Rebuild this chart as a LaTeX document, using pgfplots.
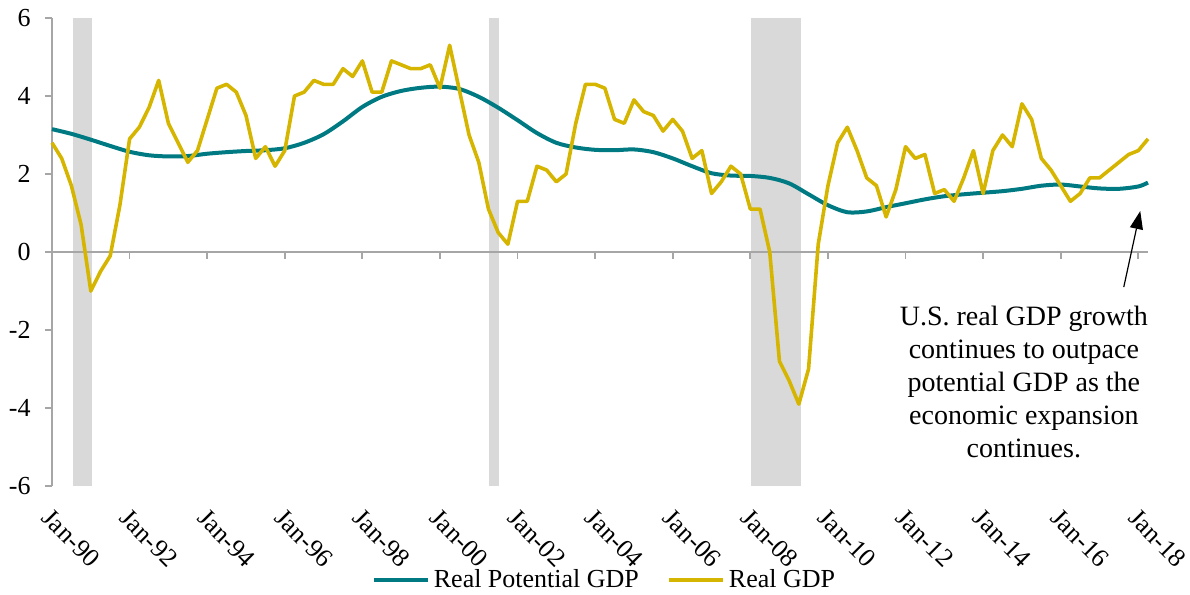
\documentclass[border=0pt]{standalone}
\usepackage{pgfplots}
\pgfplotsset{compat=1.18}
\usepackage{fontspec}
\setmainfont{Liberation Serif}
\usetikzlibrary{arrows.meta,calc}

\definecolor{potteal}{RGB}{0,122,130}
\definecolor{gdpgold}{RGB}{214,181,0}
\definecolor{recgray}{RGB}{217,217,217}
\definecolor{axgray}{RGB}{166,166,166}

% quarterly index: 0 = Q1 1990 ... 113 = Q2 2018
\begin{document}
\begin{tikzpicture}[x=1pt,y=1pt]
\begin{axis}[
  name=main,
  scale only axis,
  width=548pt, height=234pt,
  xmin=0, xmax=113,
  ymin=-6, ymax=6,
  axis y line*=left,
  axis x line*=bottom,
  x axis line style={draw=none},
  y axis line style={axgray, line width=0.9pt},
  ytick={-6,-4,-2,0,2,4,6},
  yticklabels={-6,-4,-2,0,2,4,6},
  ytick style={axgray, line width=0.9pt},
  tick align=outside,
  major tick length=3.5pt,
  xtick={0,8,...,112},
  xticklabels={Jan-90,Jan-92,Jan-94,Jan-96,Jan-98,Jan-00,Jan-02,Jan-04,Jan-06,Jan-08,Jan-10,Jan-12,Jan-14,Jan-16,Jan-18},
  xtick style={draw=none},
  xticklabel style={xshift=0.5pt, yshift=-7pt, rotate=-45, anchor=north west, inner sep=0pt},
  yticklabel style={inner sep=0pt, xshift=-7pt},
  tick label style={font=\fontsize{13pt}{15pt}\selectfont},
  legend style={at={(0.505,-0.2)}, anchor=center, draw=none, fill=none,
    legend columns=2, font=\fontsize{13pt}{15pt}\selectfont,
    /tikz/every even column/.append style={column sep=12pt}},
  legend image code/.code={\draw[#1, line width=2pt] (0pt,0pt) -- (27pt,0pt);},
  clip=false,
]
% recession shading
\addplot[fill=recgray, draw=none, forget plot] coordinates {(2.2,-6) (2.2,6) (4.1,6) (4.1,-6)} -- cycle;
\addplot[fill=recgray, draw=none, forget plot] coordinates {(45.1,-6) (45.1,6) (46.1,6) (46.1,-6)} -- cycle;
\addplot[fill=recgray, draw=none, forget plot] coordinates {(72.1,-6) (72.1,6) (77.2,6) (77.2,-6)} -- cycle;

% zero line with ticks
\draw[axgray, line width=0.9pt] (axis cs:0,0) -- (axis cs:113,0);
\pgfplotsinvokeforeach{0,8,...,112}{
  \draw[axgray, line width=0.9pt] (axis cs:#1,0) -- ([yshift=-3.5pt]axis cs:#1,0);
}

\addplot[potteal, line width=2pt, smooth] coordinates {
(0,3.15) (2,3.03) (4,2.88) (6,2.72) (8,2.57) (10,2.48) (12,2.45) (14,2.46)
(16,2.52) (18,2.56) (20,2.59) (22,2.61) (24,2.66) (26,2.80) (28,3.02) (30,3.35)
(32,3.72) (34,3.98) (36,4.13) (38,4.21) (40,4.24) (42,4.18) (44,3.98) (46,3.70)
(48,3.38) (50,3.05) (52,2.80) (54,2.68) (56,2.62) (58,2.61) (60,2.63) (62,2.56)
(64,2.40) (66,2.20) (68,2.02) (70,1.96) (72,1.95) (74,1.90) (76,1.76) (78,1.48)
(80,1.20) (82,1.02) (84,1.04) (86,1.15) (88,1.25) (90,1.35) (92,1.43) (94,1.48)
(96,1.52) (98,1.56) (100,1.62) (102,1.70) (104,1.73) (106,1.68) (108,1.63)
(110,1.62) (112,1.68) (113,1.78)
};
\addlegendentry{Real Potential GDP}

\addplot[gdpgold, line width=1.8pt, line join=round] table {
i v
0 2.8
1 2.4
2 1.7
3 0.7
4 -1.0
5 -0.5
6 -0.1
7 1.2
8 2.9
9 3.2
10 3.7
11 4.4
12 3.3
13 2.8
14 2.3
15 2.6
16 3.4
17 4.2
18 4.3
19 4.1
20 3.5
21 2.4
22 2.7
23 2.2
24 2.6
25 4.0
26 4.1
27 4.4
28 4.3
29 4.3
30 4.7
31 4.5
32 4.9
33 4.1
34 4.1
35 4.9
36 4.8
37 4.7
38 4.7
39 4.8
40 4.2
41 5.3
42 4.15
43 3.0
44 2.3
45 1.1
46 0.5
47 0.2
48 1.3
49 1.3
50 2.2
51 2.1
52 1.8
53 2.0
54 3.3
55 4.3
56 4.3
57 4.2
58 3.4
59 3.3
60 3.9
61 3.6
62 3.5
63 3.1
64 3.4
65 3.1
66 2.4
67 2.6
68 1.5
69 1.8
70 2.2
71 2.0
72 1.1
73 1.1
74 0.0
75 -2.8
76 -3.3
77 -3.9
78 -3.0
79 0.2
80 1.7
81 2.8
82 3.2
83 2.6
84 1.9
85 1.7
86 0.9
87 1.6
88 2.7
89 2.4
90 2.5
91 1.5
92 1.6
93 1.3
94 1.9
95 2.6
96 1.5
97 2.6
98 3.0
99 2.7
100 3.8
101 3.4
102 2.4
103 2.1
104 1.7
105 1.3
106 1.5
107 1.9
108 1.9
109 2.1
110 2.3
111 2.5
112 2.6
113 2.9
};
\addlegendentry{Real GDP}

\draw[-{Triangle[length=9pt,width=6.5pt]}, line width=0.6pt] (axis cs:110.5,-0.9) -- (axis cs:112.2,1.05);
\node[align=center, font=\fontsize{14pt}{16.5pt}\selectfont] at (axis cs:100.2,-3.33)
  {U.S. real GDP growth\\continues to outpace\\potential GDP as the\\economic expansion\\continues.};
\end{axis}
\pgfresetboundingbox
\path[use as bounding box] ($(main.south west)+(-26pt,-54pt)$) rectangle ($(main.north east)+(21pt,9pt)$);
\end{tikzpicture}
\end{document}
